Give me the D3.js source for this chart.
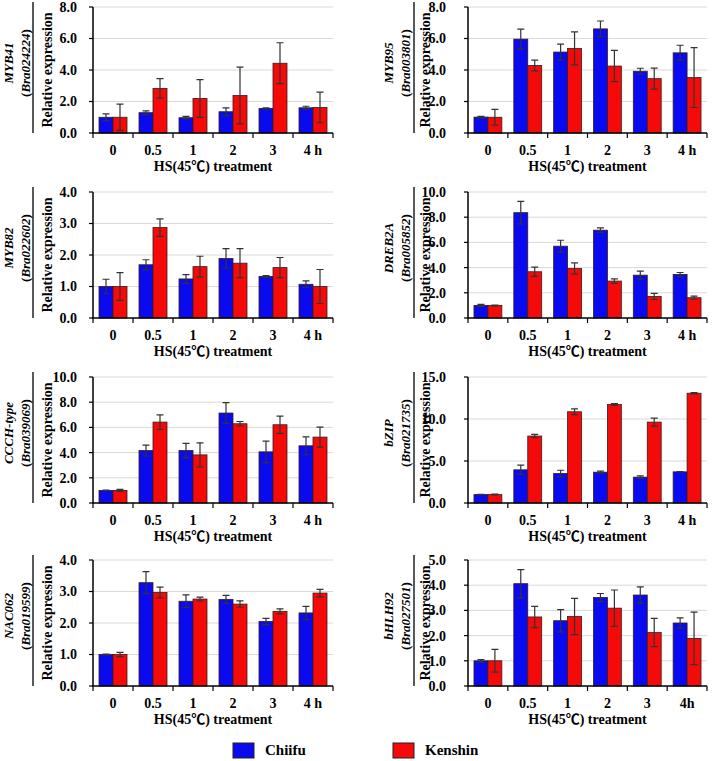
<!DOCTYPE html>
<html>
<head>
<meta charset="utf-8">
<script src="https://cdn.jsdelivr.net/npm/d3@7"></script>
<style>
  body { margin: 0; background: #fff; }
</style>
</head>
<body>
<svg id="chart" width="712" height="761"></svg>
<script>
const times = ["0", "0.5", "1", "2", "3", "4 h"];
const timesB = ["0", "0.5", "1", "2", "3", "4h"];
const series = ["Chiifu", "Kenshin"];

// MYB41 (Bra024224)
const myb41Chiifu = [1.0, 1.29, 0.97, 1.35, 1.56, 1.6];
const myb41ChiifuSd = [0.22, 0.12, 0.08, 0.25, 0.03, 0.1];
const myb41Kenshin = [1.0, 2.83, 2.19, 2.38, 4.43, 1.62];
const myb41KenshinSd = [0.83, 0.62, 1.2, 1.8, 1.3, 0.97];

// MYB95 (Bra003801)
const myb95Chiifu = [1.01, 5.96, 5.14, 6.61, 3.92, 5.09];
const myb95ChiifuSd = [0.05, 0.63, 0.5, 0.5, 0.19, 0.48];
const myb95Kenshin = [1.0, 4.29, 5.37, 4.25, 3.45, 3.52];
const myb95KenshinSd = [0.5, 0.34, 1.05, 0.99, 0.67, 1.9];

// MYB82 (Bra022602)
const myb82Chiifu = [1.0, 1.69, 1.24, 1.89, 1.32, 1.07];
const myb82ChiifuSd = [0.23, 0.16, 0.14, 0.31, 0.03, 0.11];
const myb82Kenshin = [1.0, 2.87, 1.63, 1.74, 1.6, 1.0];
const myb82KenshinSd = [0.44, 0.28, 0.33, 0.46, 0.32, 0.54];

// DREB2A (Bra005852)
const dreb2aChiifu = [1.0, 8.36, 5.7, 6.97, 3.4, 3.46];
const dreb2aChiifuSd = [0.08, 0.9, 0.47, 0.18, 0.32, 0.15];
const dreb2aKenshin = [1.0, 3.67, 3.93, 2.93, 1.71, 1.61];
const dreb2aKenshinSd = [0.03, 0.37, 0.45, 0.18, 0.24, 0.12];

// CCCH-type (Bra039069)
const ccchChiifu = [1.0, 4.16, 4.16, 7.14, 4.06, 4.54];
const ccchChiifuSd = [0.02, 0.43, 0.58, 0.82, 0.85, 0.71];
const ccchKenshin = [1.0, 6.42, 3.82, 6.29, 6.21, 5.23];
const ccchKenshinSd = [0.08, 0.58, 0.95, 0.18, 0.69, 0.79];

// bZIP (Bra021735)
const bzipChiifu = [1.0, 3.95, 3.51, 3.67, 3.08, 3.71];
const bzipChiifuSd = [0.02, 0.55, 0.39, 0.12, 0.15, 0.02];
const bzipKenshin = [1.0, 7.97, 10.86, 11.72, 9.63, 13.07];
const bzipKenshinSd = [0.05, 0.2, 0.35, 0.1, 0.47, 0.08];

// NAC062 (Bra019599)
const nac062Chiifu = [1.0, 3.28, 2.69, 2.75, 2.05, 2.32];
const nac062ChiifuSd = [0.01, 0.35, 0.2, 0.13, 0.1, 0.21];
const nac062Kenshin = [1.0, 2.97, 2.76, 2.6, 2.37, 2.95];
const nac062KenshinSd = [0.07, 0.17, 0.06, 0.1, 0.08, 0.12];

// bHLH92 (Bra027501)
const bhlh92Chiifu = [1.0, 4.06, 2.59, 3.51, 3.61, 2.5];
const bhlh92ChiifuSd = [0.05, 0.56, 0.44, 0.16, 0.32, 0.2];
const bhlh92Kenshin = [1.0, 2.74, 2.76, 3.09, 2.12, 1.89];
const bhlh92KenshinSd = [0.45, 0.42, 0.72, 0.72, 0.56, 1.04];

const panels = [
  { gene: "MYB41", id: "Bra024224", yMax: 8, step: 2, cats: times, c: myb41Chiifu, cs: myb41ChiifuSd, k: myb41Kenshin, ks: myb41KenshinSd },
  { gene: "MYB95", id: "Bra003801", yMax: 8, step: 2, cats: times, c: myb95Chiifu, cs: myb95ChiifuSd, k: myb95Kenshin, ks: myb95KenshinSd },
  { gene: "MYB82", id: "Bra022602", yMax: 4, step: 1, cats: times, c: myb82Chiifu, cs: myb82ChiifuSd, k: myb82Kenshin, ks: myb82KenshinSd },
  { gene: "DREB2A", id: "Bra005852", yMax: 10, step: 2, cats: times, c: dreb2aChiifu, cs: dreb2aChiifuSd, k: dreb2aKenshin, ks: dreb2aKenshinSd },
  { gene: "CCCH-type", id: "Bra039069", yMax: 10, step: 2, cats: times, c: ccchChiifu, cs: ccchChiifuSd, k: ccchKenshin, ks: ccchKenshinSd },
  { gene: "bZIP", id: "Bra021735", yMax: 15, step: 5, cats: times, c: bzipChiifu, cs: bzipChiifuSd, k: bzipKenshin, ks: bzipKenshinSd },
  { gene: "NAC062", id: "Bra019599", yMax: 4, step: 1, cats: times, c: nac062Chiifu, cs: nac062ChiifuSd, k: nac062Kenshin, ks: nac062KenshinSd },
  { gene: "bHLH92", id: "Bra027501", yMax: 5, step: 1, cats: timesB, c: bhlh92Chiifu, cs: bhlh92ChiifuSd, k: bhlh92Kenshin, ks: bhlh92KenshinSd }
];

const colors = { Chiifu: "#0a0af0", Kenshin: "#f50a0a" };

const svg = d3.select("#chart")
  .attr("font-family", "'Liberation Serif', 'Noto Sans CJK SC', serif")
  .attr("font-weight", "bold");

// layout
const colX = [[93, 333], [468, 707]];
const colLabelGap = [16, 22];
const rowTop = [7, 192, 377, 560];
const plotH = 126;

panels.forEach((p, i) => {
  const col = i % 2, row = Math.floor(i / 2);
  const [x0, x1] = colX[col];
  const top = rowTop[row], bottom = top + plotH;
  const g = svg.append("g");

  const x = d3.scaleBand().domain(p.cats).range([x0, x1]).paddingInner(0.3).paddingOuter(0.15);
  const xs = d3.scaleBand().domain(series).range([0, x.bandwidth()]);
  const y = d3.scaleLinear().domain([0, p.yMax]).range([bottom, top]);
  const ticks = d3.range(0, p.yMax + 1e-9, p.step);

  // gridlines
  g.selectAll(".grid").data(ticks.filter(t => t > 0)).join("line")
    .attr("x1", x0).attr("x2", x1)
    .attr("y1", d => y(d)).attr("y2", d => y(d))
    .attr("stroke", "#d9d9d9").attr("stroke-width", 1);

  // bars
  const rows = p.cats.map((t, j) => ({
    t,
    vals: [
      { s: "Chiifu", v: p.c[j], e: p.cs[j] },
      { s: "Kenshin", v: p.k[j], e: p.ks[j] }
    ]
  }));

  const grp = g.selectAll(".cat").data(rows).join("g")
    .attr("transform", d => `translate(${x(d.t)},0)`);

  grp.selectAll("rect").data(d => d.vals).join("rect")
    .attr("x", d => xs(d.s))
    .attr("width", xs.bandwidth())
    .attr("y", d => y(d.v))
    .attr("height", d => bottom - y(d.v))
    .attr("fill", d => colors[d.s])
    .attr("stroke", "#3a1a1a")
    .attr("stroke-width", 0.8);

  // error bars
  const cap = 3.5;
  grp.selectAll(".err").data(d => d.vals).join("path")
    .attr("d", d => {
      const cx = xs(d.s) + xs.bandwidth() / 2;
      const hi = y(d.v + d.e), lo = y(Math.max(0, d.v - d.e));
      return `M${cx},${hi}V${lo}M${cx - cap},${hi}H${cx + cap}M${cx - cap},${lo}H${cx + cap}`;
    })
    .attr("fill", "none").attr("stroke", "#333").attr("stroke-width", 1.2);

  // axes
  g.append("line").attr("x1", x0).attr("x2", x0).attr("y1", top).attr("y2", bottom)
    .attr("stroke", "#000").attr("stroke-width", 1.5);
  g.append("line").attr("x1", x0 - 0.75).attr("x2", x1).attr("y1", bottom).attr("y2", bottom)
    .attr("stroke", "#000").attr("stroke-width", 1.5);

  g.selectAll(".ytick").data(ticks).join("line")
    .attr("x1", x0 - 4).attr("x2", x0)
    .attr("y1", d => y(d)).attr("y2", d => y(d))
    .attr("stroke", "#000").attr("stroke-width", 1.2);

  g.selectAll(".ylab").data(ticks).join("text")
    .attr("x", x0 - colLabelGap[col])
    .attr("y", d => y(d))
    .attr("dy", "0.35em")
    .attr("text-anchor", "end")
    .attr("font-size", 14)
    .text(d => d3.format(".1f")(d));

  const step = x.step();
  g.selectAll(".xtick").data(d3.range(p.cats.length + 1)).join("line")
    .attr("x1", d => x0 + d * step).attr("x2", d => x0 + d * step)
    .attr("y1", bottom).attr("y2", bottom + 5)
    .attr("stroke", "#000").attr("stroke-width", 1.2);

  g.selectAll(".xlab").data(p.cats).join("text")
    .attr("x", d => x(d) + x.bandwidth() / 2)
    .attr("y", bottom + 22)
    .attr("text-anchor", "middle")
    .attr("font-size", 14)
    .text(d => d);

  g.append("text")
    .attr("x", (x0 + x1) / 2).attr("y", bottom + 38)
    .attr("text-anchor", "middle")
    .attr("font-size", 14)
    .text("HS(45\u2103) treatment");

  // y titles
  const mid = (top + bottom) / 2;
  const relX = x0 - (col === 0 ? 46 : 43);
  g.append("text")
    .attr("transform", `translate(${relX},${mid}) rotate(-90)`)
    .attr("text-anchor", "middle").attr("dy", "0.35em")
    .attr("font-size", 14)
    .text("Relative expression");

  const lineX = x0 - (col === 0 ? 60 : 54);
  g.append("line").attr("x1", lineX).attr("x2", lineX).attr("y1", top - 5).attr("y2", bottom)
    .attr("stroke", "#000").attr("stroke-width", 1.3);

  const labMid = mid - 7;
  const geneX = x0 - (col === 0 ? 85 : 80);
  g.append("text")
    .attr("transform", `translate(${geneX},${labMid}) rotate(-90)`)
    .attr("text-anchor", "middle").attr("dy", "0.35em")
    .attr("font-size", 13).attr("font-style", "italic")
    .text(p.gene);

  const idText = g.append("text")
    .attr("transform", `translate(${geneX + 17},${labMid}) rotate(-90)`)
    .attr("text-anchor", "middle").attr("dy", "0.35em")
    .attr("font-size", 13);
  idText.append("tspan").text("(");
  idText.append("tspan").attr("font-style", "italic").text(p.id);
  idText.append("tspan").text(")");
});

// legend
const legend = svg.append("g");
const legendX = [233, 393];
series.forEach((s, i) => {
  legend.append("rect")
    .attr("x", legendX[i]).attr("y", 743)
    .attr("width", 21).attr("height", 15)
    .attr("fill", colors[s]).attr("stroke", "#222").attr("stroke-width", 1);
  legend.append("text")
    .attr("x", legendX[i] + 32).attr("y", 755)
    .attr("font-size", 15)
    .text(s);
});
</script>
</body>
</html>
